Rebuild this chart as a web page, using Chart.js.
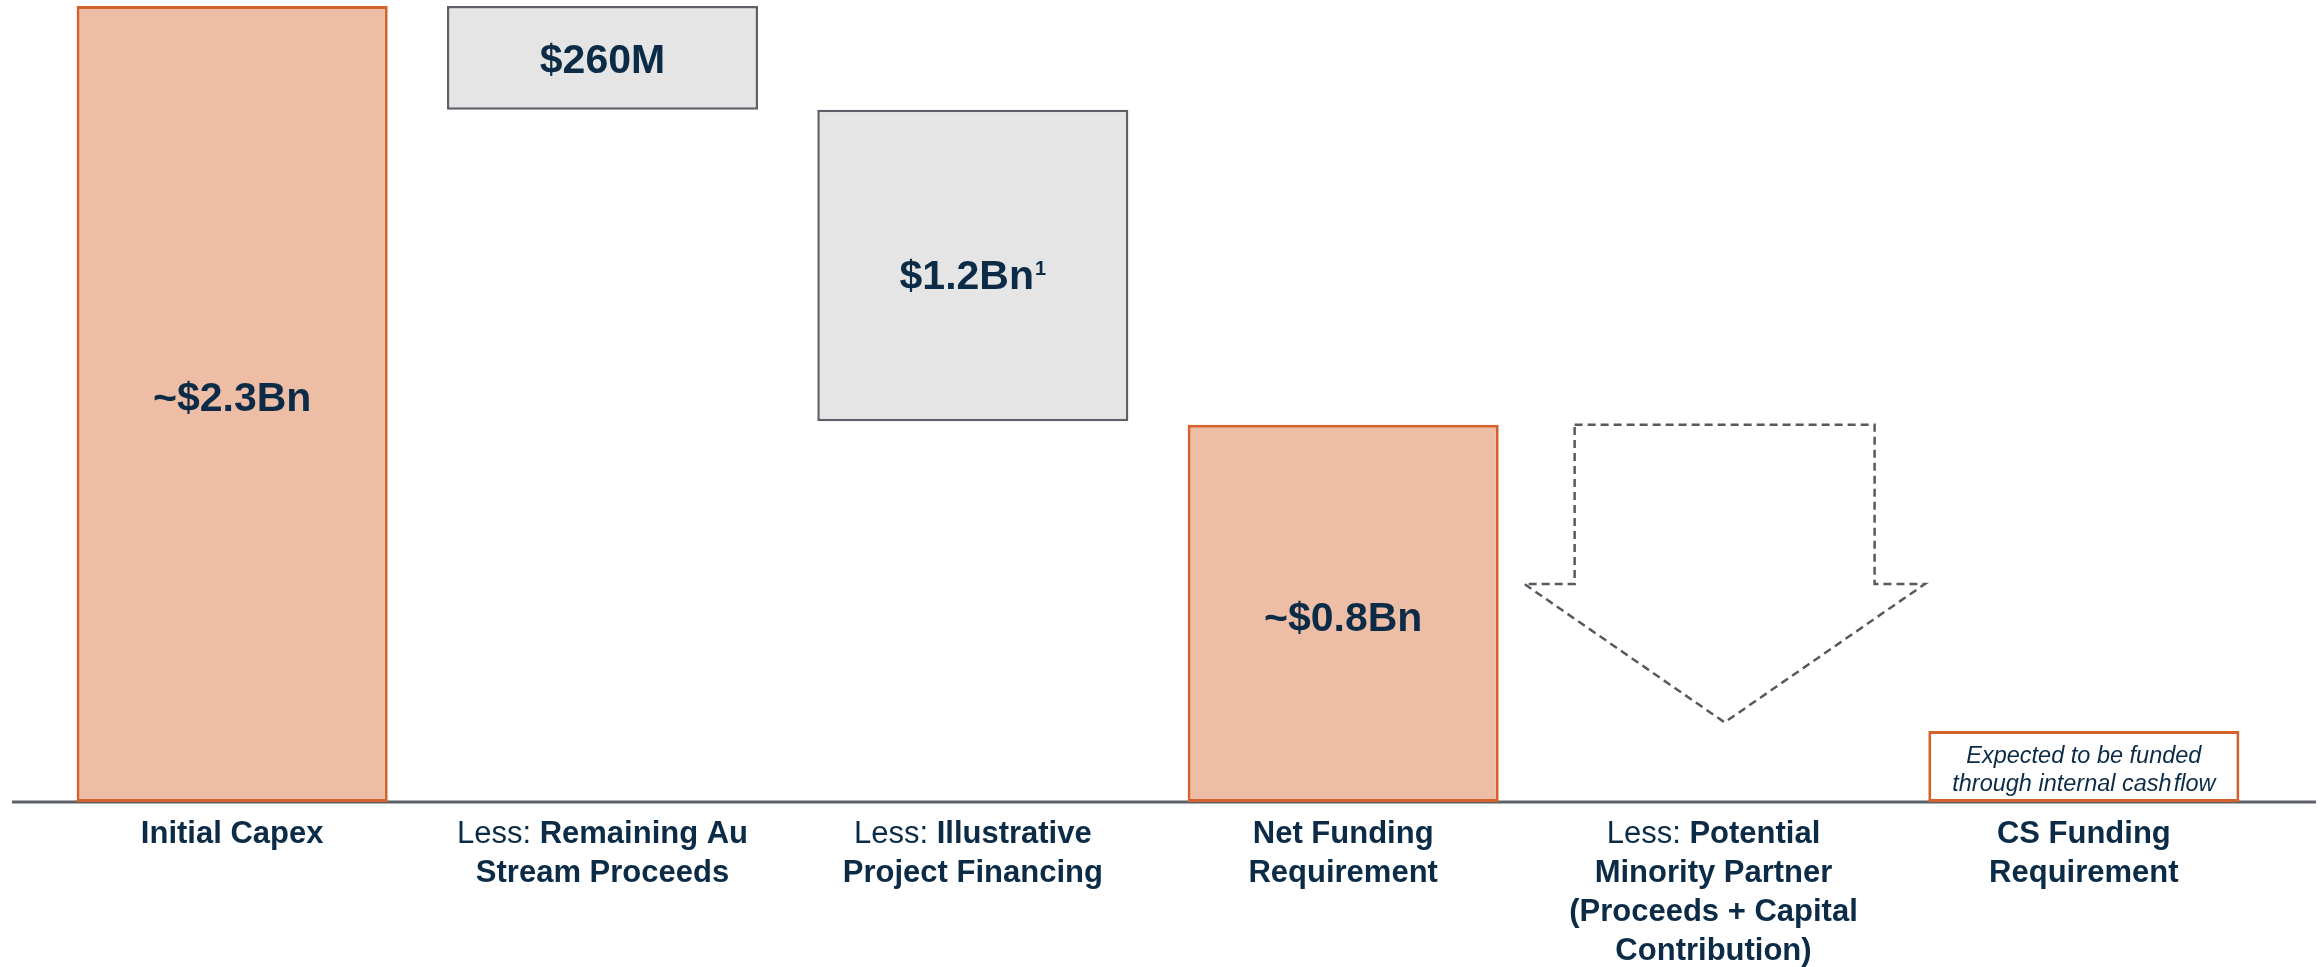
<!DOCTYPE html>
<html>
<head>
<meta charset="utf-8">
<script src="https://cdn.jsdelivr.net/npm/chart.js@4.4.1/dist/chart.umd.min.js"></script>
<style>
  html, body { margin: 0; padding: 0; background: #ffffff; }
  #wrap { width: 2323px; height: 967px; position: relative; }
</style>
</head>
<body>
<div id="wrap"><canvas id="c" width="2323" height="967"></canvas></div>
<script>
// ---- data (values in $Bn, as drawn in the reference) ----
const categories = ['Initial Capex', 'Remaining Au Stream Proceeds', 'Illustrative Project Financing', 'Net Funding Requirement', 'Potential Minority Partner', 'CS Funding Requirement'];
const barLow  = [0,   2.0, 1.1, 0,    null, 0];
const barHigh = [2.3, 2.3, 2.0, 1.09, null, 0.205];
const barKind = ['total', 'step', 'step', 'total', 'none', 'note'];
const valueLabels = ['~$2.3Bn', '$260M', '$1.2Bn', '~$0.8Bn', '', ''];
const valueSuperscripts = ['', '', '1', '', '', ''];
const noteLines = ['Expected to be funded', 'through internal cash\u200Aflow'];
const tickLabels = [
  ['Initial Capex'],
  ['Less: Remaining Au', 'Stream Proceeds'],
  ['Less: Illustrative', 'Project Financing'],
  ['Net Funding', 'Requirement'],
  ['Less: Potential', 'Minority Partner', '(Proceeds + Capital', 'Contribution)'],
  ['CS Funding', 'Requirement']
];
// dashed arrow in category 5 (index 4): y-levels in $Bn
const arrowIndex = 4;
const arrowTop = 1.09;
const arrowShoulder = 0.63;
const arrowTip = 0.23;

// ---- styles ----
const NAVY = '#0B2B46';
const FONT = "'Liberation Sans', Arial, Helvetica, sans-serif";
const fillFor = { total: '#EDBDA6', step: '#E5E5E5', note: '#FFFFFF', none: 'rgba(0,0,0,0)' };
const borderFor = { total: '#D5622B', step: '#5C6067', note: '#D5622B', none: 'rgba(0,0,0,0)' };
const labelNudge = [-4, 4, 12, 6, 0, 0]; // px nudge of in-bar value text

const data = categories.map((c, i) => (barLow[i] === null ? null : [barLow[i], barHigh[i]]));

const decor = {
  id: 'decor',
  beforeDatasetsDraw(chart) {
    const ctx = chart.ctx, y = chart.scales.y;
    const y0 = y.getPixelForValue(0);
    ctx.save();
    ctx.strokeStyle = '#5C6067';
    ctx.lineWidth = 3;
    ctx.beginPath();
    ctx.moveTo(chart.chartArea.left - 35, y0);
    ctx.lineTo(chart.chartArea.right + 47, y0);
    ctx.stroke();
    ctx.restore();
  },
  afterDatasetsDraw(chart) {
    const ctx = chart.ctx, xs = chart.scales.x, ys = chart.scales.y;
    const meta = chart.getDatasetMeta(0);
    const catW = xs.getPixelForValue(1) - xs.getPixelForValue(0);
    ctx.save();
    // value labels inside bars
    ctx.fillStyle = NAVY;
    ctx.textBaseline = 'middle';
    valueLabels.forEach((t, i) => {
      if (!t) return;
      const el = meta.data[i];
      const cx = el.x;
      const cy = (el.y + el.base) / 2 + labelNudge[i];
      ctx.font = 'bold 41px ' + FONT;
      const w = ctx.measureText(t).width;
      let sw = 0;
      if (valueSuperscripts[i]) {
        ctx.font = 'bold 20px ' + FONT;
        sw = ctx.measureText(valueSuperscripts[i]).width + 1;
      }
      const start = cx - (w + sw) / 2;
      ctx.font = 'bold 41px ' + FONT;
      ctx.textAlign = 'left';
      ctx.fillText(t, start, cy);
      if (sw) {
        ctx.font = 'bold 20px ' + FONT;
        ctx.fillText(valueSuperscripts[i], start + w + 1, cy - 8);
      }
    });
    // note text inside the last box
    barKind.forEach((k, i) => {
      if (k !== 'note') return;
      const el = meta.data[i];
      const cy = (el.y + el.base) / 2;
      ctx.font = 'italic 23.5px ' + FONT;
      ctx.textAlign = 'center';
      ctx.fillStyle = NAVY;
      ctx.fillText(noteLines[0], el.x, cy - 10);
      ctx.fillText(noteLines[1], el.x, cy + 18);
    });
    // dashed arrow
    const ac = xs.getPixelForValue(arrowIndex) + catW * 0.03;
    const shaftHalf = catW * 0.405;
    const headHalf = catW * 0.541;
    const yTop = ys.getPixelForValue(arrowTop);
    const ySh = ys.getPixelForValue(arrowShoulder);
    const yTip = ys.getPixelForValue(arrowTip);
    ctx.strokeStyle = '#555A61';
    ctx.lineWidth = 2.5;
    ctx.setLineDash([8, 5]);
    ctx.beginPath();
    ctx.moveTo(ac - shaftHalf, yTop);
    ctx.lineTo(ac + shaftHalf, yTop);
    ctx.lineTo(ac + shaftHalf, ySh);
    ctx.lineTo(ac + headHalf, ySh);
    ctx.lineTo(ac, yTip);
    ctx.lineTo(ac - headHalf, ySh);
    ctx.lineTo(ac - shaftHalf, ySh);
    ctx.closePath();
    ctx.stroke();
    ctx.setLineDash([]);
    // category labels
    const y0 = ys.getPixelForValue(0);
    ctx.fillStyle = NAVY;
    ctx.textBaseline = 'middle';
    ctx.textAlign = 'left';
    tickLabels.forEach((lines, i) => {
      const cx = xs.getPixelForValue(i);
      lines.forEach((line, j) => {
        const ly = y0 + 32 + j * 39;
        let pre = '', rest = line;
        if (line.startsWith('Less: ')) { pre = 'Less: '; rest = line.slice(6); }
        ctx.font = '31px ' + FONT;
        const pw = pre ? ctx.measureText(pre).width : 0;
        ctx.font = 'bold 31px ' + FONT;
        const rw = ctx.measureText(rest).width;
        let sx = cx - (pw + rw) / 2;
        if (pre) {
          ctx.font = '31px ' + FONT;
          ctx.fillText(pre, sx, ly);
          sx += pw;
        }
        ctx.font = 'bold 31px ' + FONT;
        ctx.fillText(rest, sx, ly);
      });
    });
    ctx.restore();
  }
};

new Chart(document.getElementById('c'), {
  type: 'bar',
  data: {
    labels: categories,
    datasets: [{
      data: data,
      backgroundColor: barKind.map(k => fillFor[k]),
      borderColor: barKind.map(k => borderFor[k]),
      borderWidth: barKind.map(k => (k === 'step' ? 2.5 : 3)),
      borderSkipped: false,
      barPercentage: 0.84,
      categoryPercentage: 1.0
    }]
  },
  options: {
    responsive: false,
    animation: false,
    devicePixelRatio: 1,
    layout: { padding: { left: 47, right: 54, top: 6, bottom: 165 } },
    plugins: { legend: { display: false }, tooltip: { enabled: false }, title: { display: false } },
    scales: {
      x: { display: false, offset: true, grid: { display: false } },
      y: { display: false, min: 0, max: 2.3, grid: { display: false } }
    }
  },
  plugins: [decor]
});
</script>
</body>
</html>
